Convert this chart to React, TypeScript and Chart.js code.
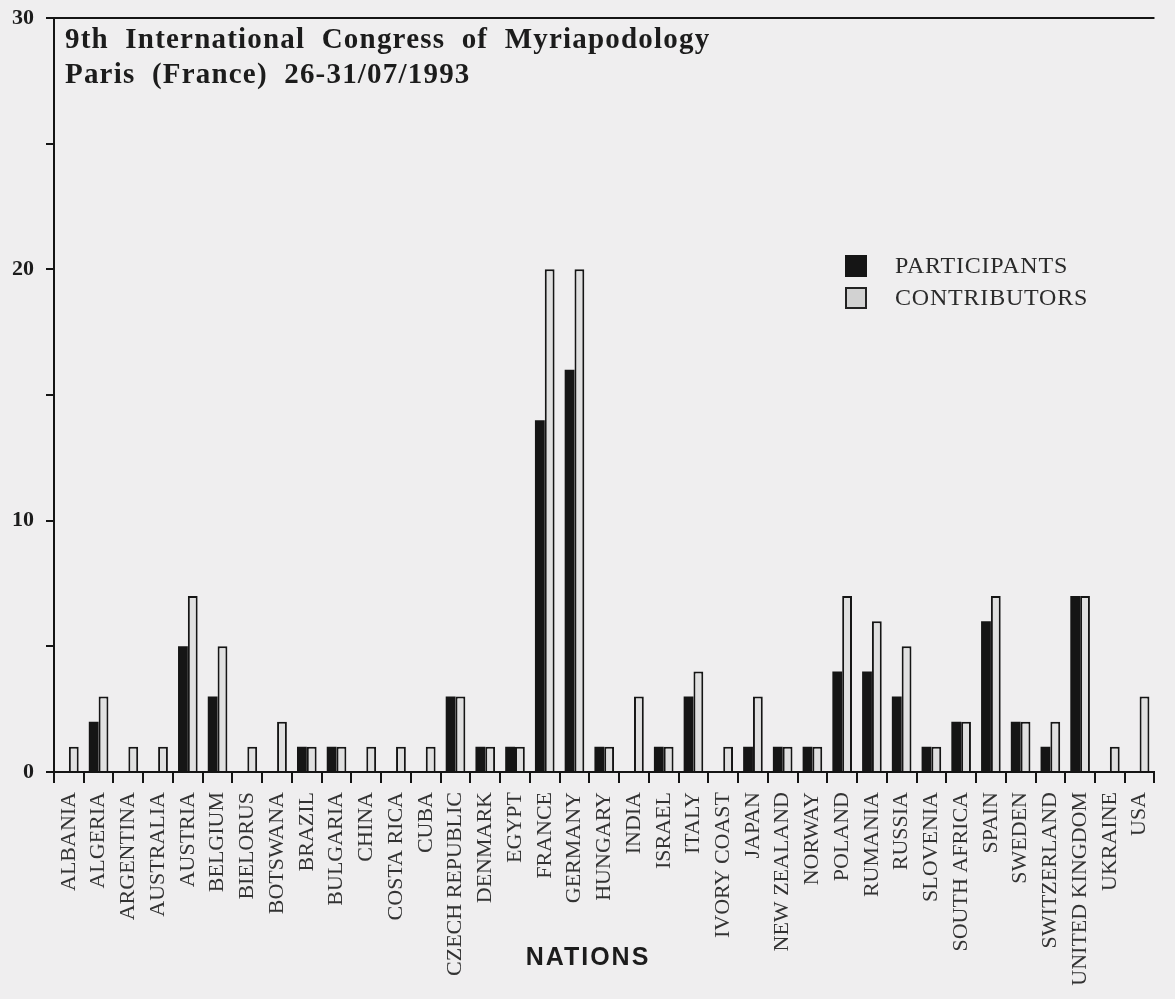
import React, { useEffect, useRef } from "react";
import { Chart, registerables } from "chart.js";

Chart.register(...registerables);

const nations = [
  "ALBANIA", "ALGERIA", "ARGENTINA", "AUSTRALIA", "AUSTRIA", "BELGIUM", "BIELORUS",
  "BOTSWANA", "BRAZIL", "BULGARIA", "CHINA", "COSTA RICA", "CUBA", "CZECH REPUBLIC",
  "DENMARK", "EGYPT", "FRANCE", "GERMANY", "HUNGARY", "INDIA", "ISRAEL", "ITALY",
  "IVORY COAST", "JAPAN", "NEW ZEALAND", "NORWAY", "POLAND", "RUMANIA", "RUSSIA",
  "SLOVENIA", "SOUTH AFRICA", "SPAIN", "SWEDEN", "SWITZERLAND", "UNITED KINGDOM",
  "UKRAINE", "USA",
];

const participants = [
  0, 2, 0, 0, 5, 3, 0, 0, 1, 1, 0, 0, 0, 3, 1, 1, 14, 16, 1, 0, 1, 3, 0, 1, 1, 1,
  4, 4, 3, 1, 2, 6, 2, 1, 7, 0, 0,
];

const contributors = [
  1, 3, 1, 1, 7, 5, 1, 2, 1, 1, 1, 1, 1, 3, 1, 1, 20, 20, 1, 3, 1, 4, 1, 3, 1, 1,
  7, 6, 5, 1, 2, 7, 2, 2, 7, 1, 3,
];

const yLabelled = [0, 10, 20, 30];
const seriesNames = ["PARTICIPANTS", "CONTRIBUTORS"];
const titleLines = ["9th International Congress of Myriapodology", "Paris (France) 26-31/07/1993"];
const axisTitle = "NATIONS";

const BG = "#efeeef";
const INK = "#151515";

const decorations = {
  id: "decorations",
  afterDraw(chart: any) {
    const { ctx, chartArea } = chart;
    ctx.save();
    // top frame line
    ctx.strokeStyle = INK;
    ctx.lineWidth = 2;
    ctx.beginPath();
    ctx.moveTo(chartArea.left - 8, chartArea.top);
    ctx.lineTo(chartArea.right, chartArea.top);
    ctx.stroke();

    // title
    ctx.fillStyle = "#1c1c1c";
    ctx.textAlign = "left";
    ctx.textBaseline = "alphabetic";
    ctx.font = "bold 29px 'Liberation Serif'";
    try { (ctx as any).letterSpacing = "1.2px"; (ctx as any).wordSpacing = "8px"; } catch (e) {}
    ctx.fillText(titleLines[0], 65, 48);
    ctx.fillText(titleLines[1], 65, 83);
    try { (ctx as any).letterSpacing = "0px"; (ctx as any).wordSpacing = "0px"; } catch (e) {}

    // legend
    const lx = 845;
    const rows = [266, 298];
    const size = 22;
    ctx.font = "24px 'Liberation Serif'";
    ctx.textBaseline = "middle";
    try { (ctx as any).letterSpacing = "0.8px"; } catch (e) {}
    rows.forEach((cy, i) => {
      if (i === 0) {
        ctx.fillStyle = INK;
        ctx.fillRect(lx, cy - size / 2, size, size);
      } else {
        ctx.fillStyle = "#d2d2d2";
        ctx.fillRect(lx, cy - size / 2, size, size);
        ctx.strokeStyle = "#222";
        ctx.lineWidth = 2;
        ctx.strokeRect(lx + 1, cy - size / 2 + 1, size - 2, size - 2);
      }
      ctx.fillStyle = "#2a2a2a";
      ctx.fillText(seriesNames[i], 895, cy + 1);
    });

    // axis title
    ctx.font = "bold 25px 'Liberation Sans'";
    ctx.textAlign = "center";
    ctx.textBaseline = "alphabetic";
    ctx.fillStyle = "#1c1c1c";
    try { (ctx as any).letterSpacing = "2px"; } catch (e) {}
    ctx.fillText(axisTitle, 588, 965);
    ctx.restore();
  },
};

export default function App() {
  const ref = useRef<HTMLCanvasElement | null>(null);

  useEffect(() => {
    if (!ref.current) return;
    const chart = new Chart(ref.current, {
      type: "bar",
      data: {
        labels: nations,
        datasets: [
          {
            label: seriesNames[0],
            data: participants,
            backgroundColor: INK,
            borderWidth: 0,
            categoryPercentage: 0.66,
            barPercentage: 1.0,
          },
          {
            label: seriesNames[1],
            data: contributors,
            backgroundColor: "#e0e0e0",
            borderColor: INK,
            borderWidth: 2,
            borderSkipped: "bottom",
            categoryPercentage: 0.66,
            barPercentage: 1.0,
          },
        ],
      },
      options: {
        animation: false,
        responsive: false,
        maintainAspectRatio: false,
        layout: { padding: { left: 0, right: 0, top: 18, bottom: 0 } },
        plugins: {
          legend: { display: false },
          tooltip: { enabled: false },
          title: { display: false },
        },
        scales: {
          x: {
            afterFit: (s: any) => { s.height = 227; },
            border: { display: true, color: INK, width: 2 },
            grid: {
              drawOnChartArea: false,
              drawTicks: true,
              tickLength: 11,
              color: INK,
              lineWidth: 2,
              offset: true,
            },
            ticks: {
              autoSkip: false,
              maxRotation: 90,
              minRotation: 90,
              padding: 9,
              color: "#333",
              font: { family: "'Liberation Serif'", size: 22 },
            },
          },
          y: {
            min: 0,
            max: 30,
            afterFit: (s: any) => { s.width = 54; },
            border: { display: true, color: INK, width: 2 },
            grid: {
              drawOnChartArea: false,
              drawTicks: true,
              tickLength: 8,
              color: INK,
              lineWidth: 2,
            },
            ticks: {
              stepSize: 5,
              padding: 12,
              color: "#1c1c1c",
              font: { family: "'Liberation Serif'", size: 22, weight: "bold", lineHeight: 0.5 },
              callback: (v: any) => (yLabelled.includes(Number(v)) ? String(v) : ""),
            },
          },
        },
      },
      plugins: [decorations],
    });
    return () => chart.destroy();
  }, []);

  return (
    <div
      style={{
        position: "absolute",
        left: 0,
        top: 0,
        width: 1175,
        height: 999,
        background: BG,
        overflow: "hidden",
      }}
    >
      <canvas ref={ref} width={1175} height={999} style={{ display: "block" }} />
    </div>
  );
}
